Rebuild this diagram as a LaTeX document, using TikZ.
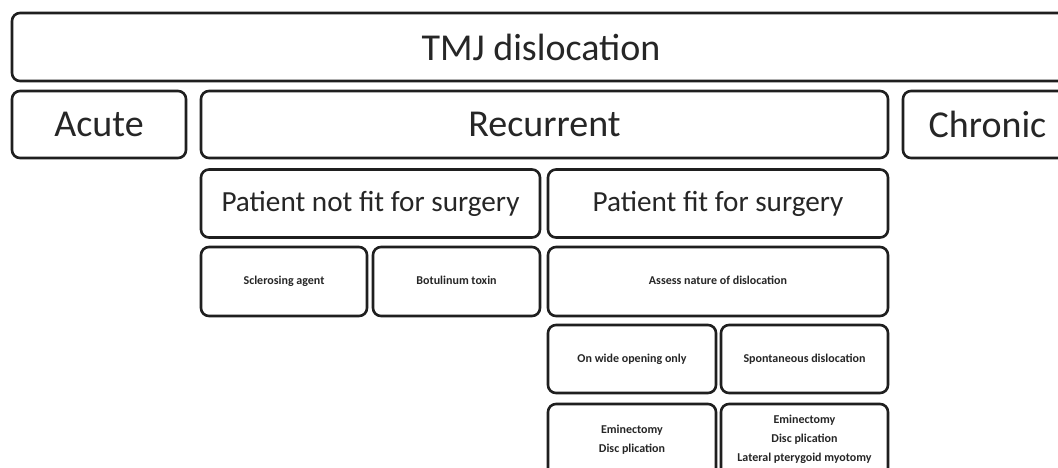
\documentclass[tikz,border=0pt]{standalone}
\usepackage{fontspec}
\setmainfont{Carlito}
\newcommand{\lift}[2]{\raisebox{#1}[0pt][0pt]{\begin{tabular}{@{}c@{}}#2\end{tabular}}}
\tikzset{
  box/.style={draw=black!88, line width=2.6pt, rounded corners=8pt, inner sep=0pt, text=black!85},
  big/.style={box, font=\fontsize{38}{44}\selectfont},
  mid/.style={box, font=\fontsize{29.2}{34}\selectfont},
  small/.style={box, font=\fontsize{12}{19}\selectfont\bfseries, text height=8.5pt, text depth=2.5pt},
  multi/.style={box, font=\fontsize{12}{19}\selectfont\bfseries},
}
\begin{document}
\begin{tikzpicture}[x=1pt,y=-1pt]
\useasboundingbox (0,0) rectangle (1058,467);
\clip (0,0) rectangle (1058,467);
\fill[white] (0,0) rectangle (1058,467);
\node[big, minimum width=1058pt, minimum height=68pt] (tmj) at (541,47) {TMJ dislocation};
\node[big, minimum width=174pt, minimum height=67pt] (acute) at (99,124.5) {Acute};
\node[big, minimum width=687pt, minimum height=67pt] (rec) at (544.5,124.5) {Recurrent};
\node[big, minimum width=169pt, minimum height=67pt] (chronic) at (987.5,124.5) {Chronic};
\node[mid, minimum width=339pt, minimum height=68pt] (notfit) at (370.5,203.5) {Patient not fit for surgery};
\node[mid, minimum width=340pt, minimum height=68pt] (fit) at (718,203.5) {Patient fit for surgery};
\node[small, minimum width=166pt, minimum height=69pt] (scler) at (284,281.5) {Sclerosing agent};
\node[small, minimum width=167pt, minimum height=69pt] (botu) at (456.5,281.5) {Botulinum toxin};
\node[small, minimum width=340pt, minimum height=69pt] (assess) at (718,281.5) {Assess nature of dislocation};
\node[small, minimum width=168pt, minimum height=68pt] (wide) at (632,359) {On wide opening only};
\node[small, minimum width=167pt, minimum height=68pt] (spont) at (804.5,359) {Spontaneous dislocation};
\node[multi, minimum width=168pt, minimum height=80pt] (emin1) at (632,444) {\lift{2pt}{Eminectomy\\Disc plication}};
\node[multi, minimum width=167pt, minimum height=80pt] (emin2) at (804.5,444) {\lift{2pt}{Eminectomy\\Disc plication\\Lateral pterygoid myotomy}};
\end{tikzpicture}
\end{document}
